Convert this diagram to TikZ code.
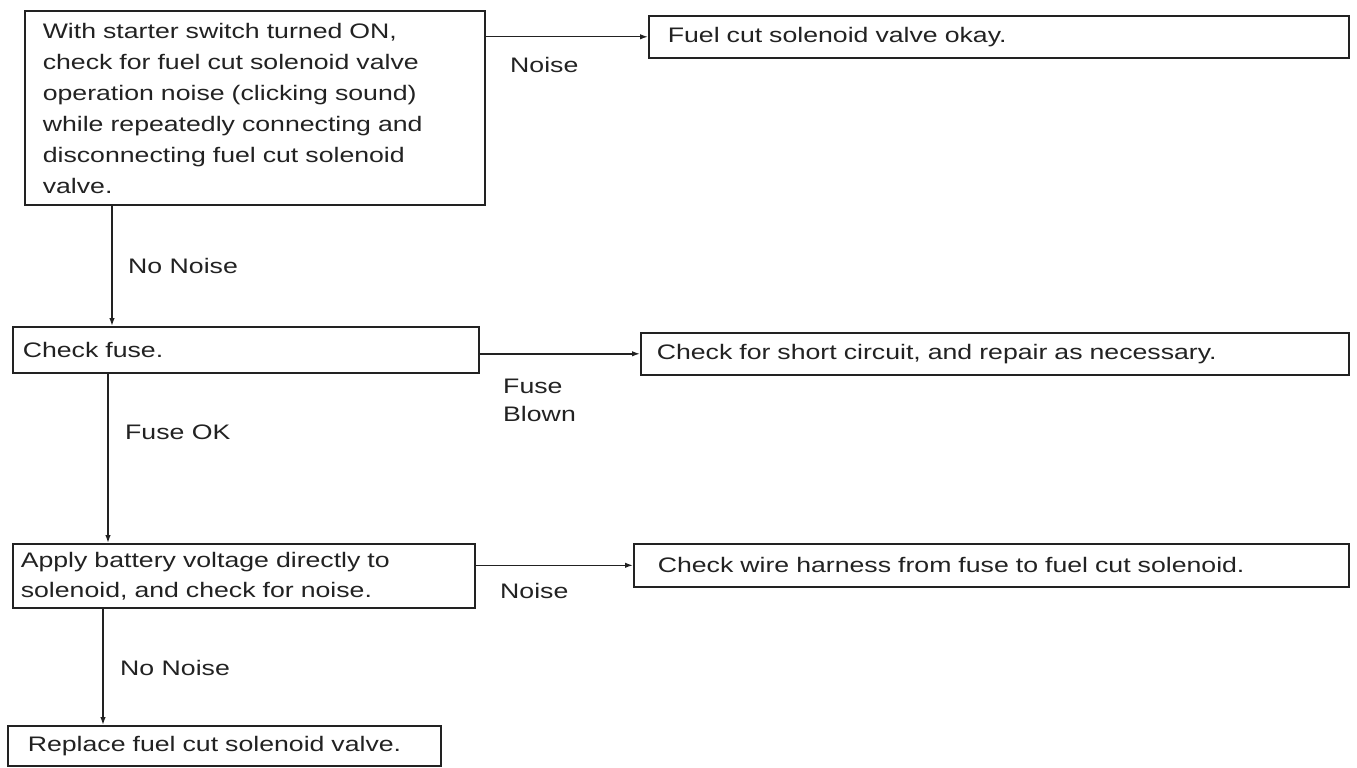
\documentclass[tikz,border=0pt]{standalone}
\usepackage{fontspec}
\setmainfont[FakeStretch=1.27]{Liberation Sans}
\usepackage{xcolor}
\usetikzlibrary{arrows.meta}
\definecolor{ink}{HTML}{222222}
\tikzset{
  box/.style   = {draw=ink, line width=1.6pt, rectangle, anchor=north west, align=left,
                  inner ysep=0pt, text=ink, font=\fontsize{21}{30}\selectfont},
  flow/.style  = {-{Latex[length=8pt,width=5.5pt]}, draw=ink, line width=1.4pt},
  lbl/.style   = {inner sep=0pt, anchor=base west, text=ink, align=left,
                  font=\fontsize{21}{28}\selectfont},
}

\begin{document}
\begin{tikzpicture}[x=1pt, y=-1pt]
  \useasboundingbox (0,0) rectangle (1357,768);

  \node[box, inner xsep=18pt, inner ysep=12pt, text width=424pt,
        font=\fontsize{21}{31}\selectfont] (check) at (24,10)
    {With starter switch turned ON,\\
     check for fuel cut solenoid valve\\
     operation noise (clicking sound)\\
     while repeatedly connecting and\\
     disconnecting fuel cut solenoid\\
     valve.};
  \node[box, inner xsep=19pt, text width=662pt, minimum height=42pt] (okay) at (648,15)
    {Fuel cut solenoid valve okay.};

  \node[box, inner xsep=10pt, text width=446pt, minimum height=46pt] (fuse) at (12,326)
    {Check fuse.};
  \node[box, inner xsep=16pt, text width=676pt, minimum height=42pt] (short) at (640,332)
    {Check for short circuit, and repair as necessary.};

  \node[box, inner xsep=8pt, text width=446pt, minimum height=64pt] (apply) at (12,543)
    {Apply battery voltage directly to\\ solenoid, and check for noise.};
  \node[box, inner xsep=24pt, text width=667pt, minimum height=43pt] (harness) at (633,543)
    {Check wire harness from fuse to fuel cut solenoid.};

  \node[box, inner xsep=20pt, text width=393pt, minimum height=40pt] (replace) at (7,725)
    {Replace fuel cut solenoid valve.};

  % connectors
  \draw[flow] (check.east |- okay.west) -- (okay.west);
  \draw[flow] ([xshift=88pt]check.south west) -- ([xshift=88pt]check.south west |- fuse.north);
  \draw[flow] (fuse.east |- short.west) -- (short.west);
  \draw[flow] ([xshift=96pt]fuse.south west) -- ([xshift=96pt]fuse.south west |- apply.north);
  \draw[flow] (apply.east |- harness.west) -- (harness.west);
  \draw[flow] ([xshift=91pt]apply.south west) -- ([xshift=91pt]apply.south west |- replace.north);

  % branch labels
  \node[lbl] (noise1) at (510,73) {Noise};
  \node[lbl] (nonoise1) at (128,273) {No Noise};
  \node[lbl, anchor=north west] (blown) at (503,379) {Fuse\\Blown};
  \node[lbl] (fuseok) at (125,439) {Fuse OK};
  \node[lbl] (noise2) at (500,598) {Noise};
  \node[lbl] (nonoise2) at (120,675) {No Noise};
\end{tikzpicture}
\end{document}
